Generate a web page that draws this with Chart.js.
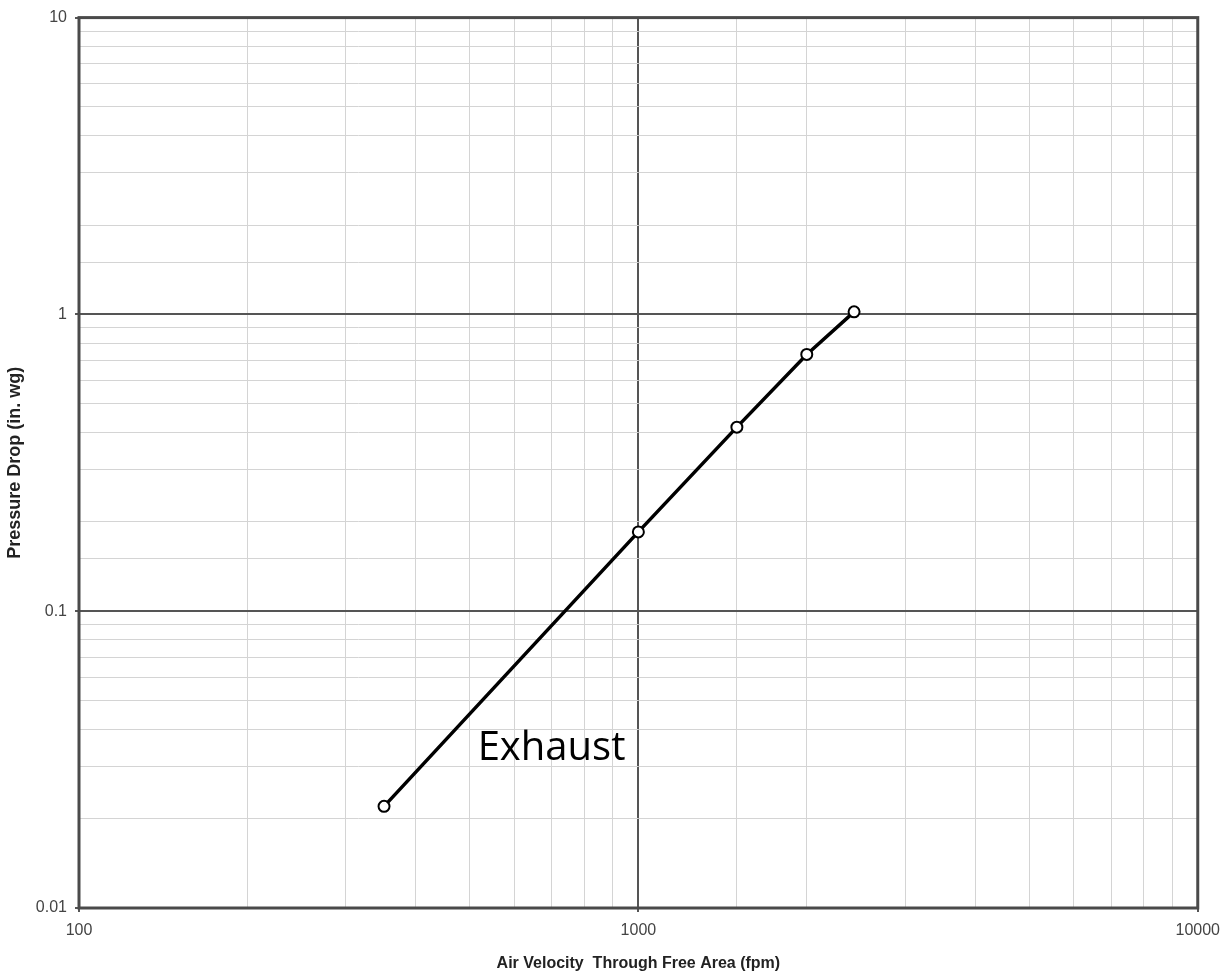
<!DOCTYPE html>
<html>
<head>
<meta charset="utf-8">
<script src="https://cdn.jsdelivr.net/npm/chart.js@4"></script>
<style>
  html, body { margin: 0; padding: 0; background: #fff; }
  #wrap { width: 1229px; height: 977px; }
</style>
</head>
<body>
<div id="wrap"><canvas id="myChart" width="1229" height="977"></canvas></div>
<script>
// air velocity (fpm) vs pressure drop (in. wg)
var velocity = [351, 1000, 1500, 2000, 2430];
var pressure = [0.022, 0.185, 0.417, 0.733, 1.02];
var seriesName = "Exhaust";
var labelAt = [516, 0.0345]; // where the series name sits, in data units

function isDecade(v) {
  var l = Math.log10(v);
  return Math.abs(l - Math.round(l)) < 1e-9;
}

// frame + series label
var extras = {
  id: "extras",
  afterDatasetsDraw: function (chart) {
    var ctx = chart.ctx, a = chart.chartArea;
    ctx.save();
    ctx.strokeStyle = "#4a4a4a";
    ctx.lineWidth = 3;
    ctx.strokeRect(a.left, a.top, a.right - a.left, a.bottom - a.top);
    var x = chart.scales.x.getPixelForValue(labelAt[0]);
    var y = chart.scales.y.getPixelForValue(labelAt[1]);
    ctx.fillStyle = "#000";
    ctx.font = "40px 'Open Sans', sans-serif";
    ctx.textAlign = "left";
    ctx.textBaseline = "middle";
    ctx.fillText(seriesName, x, y);
    ctx.restore();
  }
};

var config = {
  type: "line",
  data: {
    datasets: [
      {
        label: seriesName,
        data: velocity.map(function (v, i) { return { x: v, y: pressure[i] }; }),
        borderColor: "#000",
        borderWidth: 3.5,
        pointRadius: 5.5,
        pointBorderWidth: 2,
        pointBackgroundColor: "#fff",
        pointBorderColor: "#000",
        tension: 0
      }
    ]
  },
  options: {
    responsive: false,
    animation: false,
    layout: { autoPadding: false, padding: { left: 0, top: 16, right: 30, bottom: 0 } },
    plugins: { legend: { display: false }, tooltip: { enabled: false } },
    scales: {
      x: {
        type: "logarithmic",
        min: 100,
        max: 10000,
        afterFit: function (s) { s.height = 69; },
        border: { display: false },
        grid: {
          color: function (c) { return isDecade(c.tick.value) ? "#555" : "#d4d4d4"; },
          lineWidth: function (c) { return isDecade(c.tick.value) ? 2 : 1; },
          tickLength: 4,
          tickColor: function (c) { return isDecade(c.tick.value) ? "#555" : "rgba(0,0,0,0)"; }
        },
        ticks: {
          autoSkip: false,
          maxRotation: 0,
          padding: 9,
          color: "#444",
          font: { family: "Liberation Sans", size: 16 },
          callback: function (v) { return isDecade(v) ? String(Math.round(v)) : ""; }
        },
        title: {
          display: true,
          text: "Air Velocity  Through Free Area (fpm)",
          color: "#222",
          padding: { top: 4 },
          font: { family: "Liberation Sans", size: 16, weight: "bold" }
        }
      },
      y: {
        type: "logarithmic",
        min: 0.01,
        max: 10,
        afterFit: function (s) { s.width = 79; },
        border: { display: false },
        grid: {
          color: function (c) { return isDecade(c.tick.value) ? "#555" : "#d4d4d4"; },
          lineWidth: function (c) { return isDecade(c.tick.value) ? 2 : 1; },
          tickLength: 4,
          tickColor: function (c) { return isDecade(c.tick.value) ? "#555" : "rgba(0,0,0,0)"; }
        },
        ticks: {
          autoSkip: false,
          padding: 8,
          color: "#444",
          font: { family: "Liberation Sans", size: 16 },
          callback: function (v) {
            if (!isDecade(v)) return "";
            return v >= 1 ? String(Math.round(v)) : String(Number(v.toPrecision(1)));
          }
        },
        title: {
          display: true,
          text: "Pressure Drop (in. wg)",
          color: "#222",
          padding: { bottom: 2 },
          font: { family: "Liberation Sans", size: 18, weight: "bold" }
        }
      }
    }
  },
  plugins: [extras]
};

var ctx = document.getElementById("myChart").getContext("2d");
var chart = new Chart(ctx, config);
</script>
</body>
</html>
